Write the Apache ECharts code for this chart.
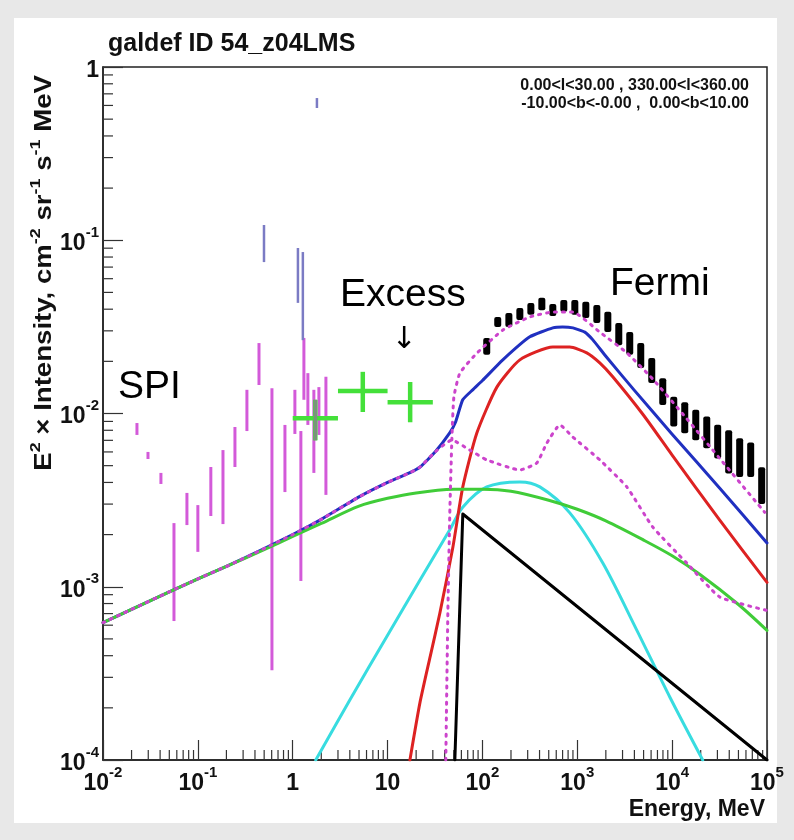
<!DOCTYPE html>
<html>
<head>
<meta charset="utf-8">
<script src="https://cdn.jsdelivr.net/npm/echarts@6/dist/echarts.min.js"></script>
<style>
  html, body { margin: 0; padding: 0; background: #e8e8e8; }
  #bg { position: absolute; left: 14px; top: 18px; width: 763px; height: 805px; background: #ffffff; }
  #chart { position: absolute; left: 0; top: 0; width: 794px; height: 840px; }
</style>
</head>
<body>
<div id="bg"></div>
<div id="chart"></div>
<script>
// ---------------- data (Energy in MeV, E^2 x Intensity) ----------------
const xTickValues = [0.01, 0.1, 1, 10, 100, 1000, 10000, 100000];
const yTickValues = [0.0001, 0.001, 0.01, 0.1, 1];

const greenE = [0.01,0.02,0.05,0.1,0.2,0.5,1,2,5,10,20,50,100,200,500,1000,2000,5000,1e4,2e4,5e4,1e5];
const greenI = [6.2e-4,7.4e-4,9.35e-4,1.11e-3,1.31e-3,1.64e-3,1.95e-3,2.32e-3,2.92e-3,3.24e-3,3.48e-3,3.65e-3,3.66e-3,3.56e-3,3.16e-3,2.80e-3,2.40e-3,1.86e-3,1.51e-3,1.17e-3,7.9e-4,5.6e-4];

const blueE = [0.01,0.02,0.05,0.1,0.2,0.5,1,2,5,10,17,22,32,45,52,62,79,100,164,316,552,700,900,1200,1460,2000,4000,1e4,3.16e4,1e5];
const blueI = [6.2e-4,7.4e-4,9.35e-4,1.11e-3,1.31e-3,1.66e-3,2.0e-3,2.45e-3,3.3e-3,4.0e-3,4.54e-3,4.91e-3,6.03e-3,7.7e-3,8.9e-3,1.2e-2,1.37e-2,1.55e-2,2.04e-2,2.77e-2,3.12e-2,3.16e-2,3.12e-2,2.95e-2,2.66e-2,2.14e-2,1.36e-2,7.6e-3,3.72e-3,1.79e-3];

const redE = [17.2,21.9,28.2,35.6,48.8,62.1,87.3,142,248,552,834,1259,1726,2366,5000,1e4,3.16e4,1e5];
const redI = [1.0e-4,2.13e-4,3.98e-4,7.05e-4,1.69e-3,3.77e-3,7.71e-3,1.42e-2,2.04e-2,2.42e-2,2.42e-2,2.24e-2,1.96e-2,1.63e-2,9.77e-3,5.75e-3,2.43e-3,1.06e-3];

const cyanE = [1.75,4.0,10,21.9,45.3,62,111,248,403,834,1858,4236,9441,21000];
const cyanI = [1.0e-4,2.22e-4,5.25e-4,1.09e-3,2.13e-3,2.88e-3,3.77e-3,4.03e-3,3.77e-3,2.67e-3,1.37e-3,5.62e-4,2.31e-4,1.0e-4];

const blackE = [51.2,62.1,1e5];
const blackI = [1.0e-4,2.63e-3,1.0e-4];

const dotLowE = [0.01,0.02,0.05,0.1,0.2,0.5,1,2,5,10,17,22,32,47.6,73.6,111,248,374,478,655,897,1726,3327,6252,14260,31770,1e5];
const dotLowI = [6.2e-4,7.4e-4,9.35e-4,1.11e-3,1.31e-3,1.66e-3,2.0e-3,2.45e-3,3.3e-3,4.0e-3,4.54e-3,4.91e-3,6.03e-3,7.03e-3,6.15e-3,5.40e-3,4.72e-3,5.18e-3,6.76e-3,8.59e-3,7.31e-3,5.40e-3,3.77e-3,2.21e-3,1.37e-3,8.73e-4,7.3e-4];

const dotUpE = [41.1,43.2,45.3,47.6,50.0,57.8,87.3,164,316,552,897,1726,3327,6252,14260,31770,94600];
const dotUpI = [1.0e-4,7.05e-4,2.67e-3,7.03e-3,1.245e-2,1.71e-2,2.23e-2,3.03e-2,3.61e-2,3.85e-2,3.85e-2,2.95e-2,2.24e-2,1.58e-2,9.33e-3,5.50e-3,2.69e-3];

// Fermi data points (thick black error bars)
const fermiE  = [111,145,190,248,324,423,552,721,942,1230,1607,2099,2738,3573,4667,6095,7962,10400,13580,17740,23170,30200,39450,51520,67300,87900];
const fermiHi = [0.0273,0.0361,0.0380,0.0406,0.0435,0.0465,0.0429,0.0452,0.0452,0.0441,0.0423,0.0386,0.0333,0.0295,0.0255,0.0209,0.0160,0.0125,0.0116,0.0105,0.0096,0.0086,0.0080,0.0072,0.0068,0.0049];
const fermiLo = [0.0218,0.0316,0.0316,0.0347,0.0371,0.0395,0.0366,0.0386,0.0371,0.0356,0.0333,0.0295,0.0248,0.0218,0.0183,0.0150,0.0112,0.0084,0.0077,0.0070,0.0063,0.0055,0.0045,0.0043,0.0043,0.0030];

// SPI data points (magenta error bars)
const spiE  = [0.0228,0.0298,0.0408,0.0560,0.0767,0.100,0.137,0.184,0.246,0.329,0.441,0.604,0.828,1.054,1.219,1.312,1.445,1.671,1.888,2.239];
const spiHi = [8.81e-3,6.0e-3,4.54e-3,2.33e-3,3.48e-3,2.96e-3,4.91e-3,6.15e-3,8.36e-3,1.37e-2,2.55e-2,1.40e-2,8.59e-3,1.37e-2,7.92e-3,2.73e-2,1.71e-2,1.37e-2,1.42e-2,1.63e-2];
const spiLo = [7.52e-3,5.46e-3,3.92e-3,6.34e-4,2.27e-3,1.59e-3,2.56e-3,2.30e-3,4.91e-3,7.92e-3,1.46e-2,3.30e-4,3.52e-3,7.62e-3,1.08e-3,1.20e-2,8.59e-3,4.54e-3,7.52e-3,3.39e-3];

// thin blue error bars
const compE  = [0.498,1.135,1.279,1.80];
const compHi = [0.1225,0.0902,0.0855,0.662];
const compLo = [0.0748,0.0435,0.0265,0.580];

// "Excess" crosses (green)
const crossE   = [1.73,5.48,17.3];
const crossElo = [1,3,10];
const crossEhi = [3,10,30];
const crossI   = [9.4e-3,1.35e-2,1.16e-2];
const crossIlo = [7.0e-3,1.02e-2,8.9e-3];
const crossIhi = [1.2e-2,1.74e-2,1.52e-2];

// gray cross vertical
const grayE = [1.73];
const grayLo = [7.0e-3];
const grayHi = [1.2e-2];

// ---------------- chart ----------------
const FF = '"Liberation Sans", Arial, Helvetica, sans-serif';
const zip = (a, b) => a.map((v, i) => [v, b[i]]);

const minorX = [];
for (let d = -2; d < 5; d++) for (let m = 2; m <= 9; m++) minorX.push([m * Math.pow(10, d), 1e-4]);
const minorY = [];
for (let d = -4; d < 0; d++) for (let m = 2; m <= 9; m++) minorY.push([0.01, m * Math.pow(10, d)]);

function powLabel(v) {
  const e = Math.round(Math.log10(v));
  if (e === 0) return '{b|1}';
  if (e === 1) return '{b|10}';
  return '{b|10}{s|' + e + '}';
}
const labelRich = {
  b: { fontFamily: FF, fontWeight: 'bold', fontSize: 23, color: '#111', lineHeight: 30, verticalAlign: 'bottom' },
  s: { fontFamily: FF, fontWeight: 'bold', fontSize: 15, color: '#111', lineHeight: 15, verticalAlign: 'top' }
};

function errBar(width, color, radius) {
  return function (params, api) {
    const e = api.value(0);
    const lo = api.value(1), hi = api.value(2);
    const p1 = api.coord([e, hi]);
    const p2 = api.coord([e, lo]);
    return {
      type: 'rect',
      shape: { x: p1[0] - width / 2, y: p1[1], width: width, height: p2[1] - p1[1], r: radius || 0 },
      style: { fill: color }
    };
  };
}

function crossRender(color, w) {
  return function (params, api) {
    const e = api.value(0), i = api.value(1);
    const elo = api.value(2), ehi = api.value(3), ilo = api.value(4), ihi = api.value(5);
    const h1 = api.coord([elo, i]), h2 = api.coord([ehi, i]);
    const v1 = api.coord([e, ilo]), v2 = api.coord([e, ihi]);
    return {
      type: 'group',
      children: [
        { type: 'line', shape: { x1: h1[0], y1: h1[1], x2: h2[0], y2: h2[1] }, style: { stroke: color, lineWidth: w } },
        { type: 'line', shape: { x1: v1[0], y1: v1[1], x2: v2[0], y2: v2[1] }, style: { stroke: color, lineWidth: w } }
      ]
    };
  };
}

function tickRender(dir) {
  return function (params, api) {
    const c = api.coord([api.value(0), api.value(1)]);
    const shape = dir === 'x'
      ? { x1: c[0], y1: c[1], x2: c[0], y2: c[1] - 10 }
      : { x1: c[0], y1: c[1], x2: c[0] + 10, y2: c[1] };
    return { type: 'line', shape: shape, style: { stroke: '#333', lineWidth: 1.2 } };
  };
}

function curve(name, E, I, color, width, extra) {
  return Object.assign({
    name: name, type: 'line', data: zip(E, I), showSymbol: false, symbol: 'none',
    lineStyle: { color: color, width: width, cap: 'round', join: 'round' },
    silent: true, clip: true
  }, extra || {});
}

const dotStyle = { color: '#cc44cc', width: 3, type: [2, 6], cap: 'round' };

const chart = echarts.init(document.getElementById('chart'), null, { renderer: 'canvas' });
const option = {
  animation: false,
  grid: { left: 103, top: 67, right: 27, bottom: 80, show: true, borderColor: '#222', borderWidth: 1.5, backgroundColor: 'transparent' },
  xAxis: {
    type: 'log', logBase: 10, min: 0.01, max: 1e5,
    axisLine: { show: true, onZero: false, lineStyle: { color: '#222', width: 1.5 } },
    axisTick: { show: true, inside: true, length: 20, lineStyle: { color: '#333', width: 1.2 } },
    splitLine: { show: false },
    axisLabel: { margin: 5, formatter: powLabel, rich: labelRich }
  },
  yAxis: {
    type: 'log', logBase: 10, min: 1e-4, max: 1,
    axisLine: { show: true, onZero: false, lineStyle: { color: '#222', width: 1.5 } },
    axisTick: { show: true, inside: true, length: 20, lineStyle: { color: '#333', width: 1.2 } },
    splitLine: { show: false },
    axisLabel: { margin: 4, formatter: powLabel, rich: labelRich }
  },
  series: [
    { type: 'custom', data: minorX, renderItem: tickRender('x'), clip: false, silent: true, z: 1 },
    { type: 'custom', data: minorY, renderItem: tickRender('y'), clip: false, silent: true, z: 1 },
    { type: 'custom', name: 'Fermi', data: fermiE.map((e, i) => [e, fermiLo[i], fermiHi[i]]), renderItem: errBar(7, '#000', 2), encode: { x: 0, y: [1, 2] }, z: 3 },
    { type: 'custom', name: 'SPI', data: spiE.map((e, i) => [e, spiLo[i], spiHi[i]]), renderItem: errBar(3, '#d35ad9', 0), encode: { x: 0, y: [1, 2] }, z: 3 },
    { type: 'custom', name: 'blue data', data: compE.map((e, i) => [e, compLo[i], compHi[i]]), renderItem: errBar(2.5, '#7b7bc4', 0), encode: { x: 0, y: [1, 2] }, z: 3 },
    curve('blue', blueE, blueI, '#2030c0', 3, { smooth: 0.15, z: 4 }),
    curve('cyan', cyanE, cyanI, '#38dce0', 3, { smooth: 0.3, z: 5 }),
    curve('red', redE, redI, '#dd2222', 3, { smooth: 0.2, z: 5 }),
    curve('green', greenE, greenI, '#40cc38', 3, { smooth: 0.3, z: 5 }),
    curve('black', blackE, blackI, '#000000', 3, { z: 5 }),
    curve('dotted low', dotLowE, dotLowI, '#cc44cc', 3, { smooth: 0.15, z: 6, lineStyle: dotStyle }),
    curve('dotted up', dotUpE, dotUpI, '#cc44cc', 3, { smooth: 0.15, z: 6, lineStyle: dotStyle }),
    { type: 'custom', name: 'Excess', data: crossE.map((e, i) => [e, crossI[i], crossElo[i], crossEhi[i], crossIlo[i], crossIhi[i]]), renderItem: crossRender('#44e03a', 4.5), encode: { x: 0, y: 1 }, z: 7 },
    { type: 'custom', name: 'gray', data: grayE.map((e, i) => [e, grayLo[i], grayHi[i]]), renderItem: errBar(3.5, '#7a947a', 0), encode: { x: 0, y: [1, 2] }, z: 8 }
  ],
  graphic: [
    { type: 'text', left: 108, top: 32, style: { text: 'galdef ID 54_z04LMS', font: 'bold 25px ' + FF, fill: '#111' } },
    { type: 'text', x: 749, y: 86, style: { text: '0.00<l<30.00 , 330.00<l<360.00', font: 'bold 16px ' + FF, fill: '#111', align: 'right', verticalAlign: 'middle' } },
    { type: 'text', x: 749, y: 104, style: { text: '-10.00<b<-0.00 ,  0.00<b<10.00', font: 'bold 16px ' + FF, fill: '#111', align: 'right', verticalAlign: 'middle' } },
    { type: 'text', x: 42, y: 75, rotation: Math.PI / 2, scaleX: 1.2,
      style: {
        text: '{a|E}{s|2}{a| \u00d7 Intensity, cm}{s|-2}{a| sr}{s|-1}{a| s}{s|-1}{a| MeV}',
        align: 'right', verticalAlign: 'middle',
        rich: {
          a: { fontFamily: FF, fontWeight: 'bold', fontSize: 23, fill: '#111', lineHeight: 28, verticalAlign: 'bottom' },
          s: { fontFamily: FF, fontWeight: 'bold', fontSize: 15, fill: '#111', lineHeight: 15, verticalAlign: 'top' }
        }
      } },
    { type: 'text', x: 765, y: 810, style: { text: 'Energy, MeV', font: 'bold 23px ' + FF, fill: '#111', align: 'right', verticalAlign: 'middle' } },
    { type: 'text', x: 118, y: 387, style: { text: 'SPI', font: '39px ' + FF, fill: '#000', verticalAlign: 'middle' } },
    { type: 'text', x: 340, y: 295, style: { text: 'Excess', font: '39px ' + FF, fill: '#000', verticalAlign: 'middle' } },
    { type: 'text', x: 404, y: 340, style: { text: '\u2193', font: '30px "DejaVu Sans", sans-serif', fill: '#000', align: 'center', verticalAlign: 'middle' } },
    { type: 'text', x: 610, y: 284, style: { text: 'Fermi', font: '39px ' + FF, fill: '#000', verticalAlign: 'middle' } }
  ]
};
chart.setOption(option);
</script>
</body>
</html>
